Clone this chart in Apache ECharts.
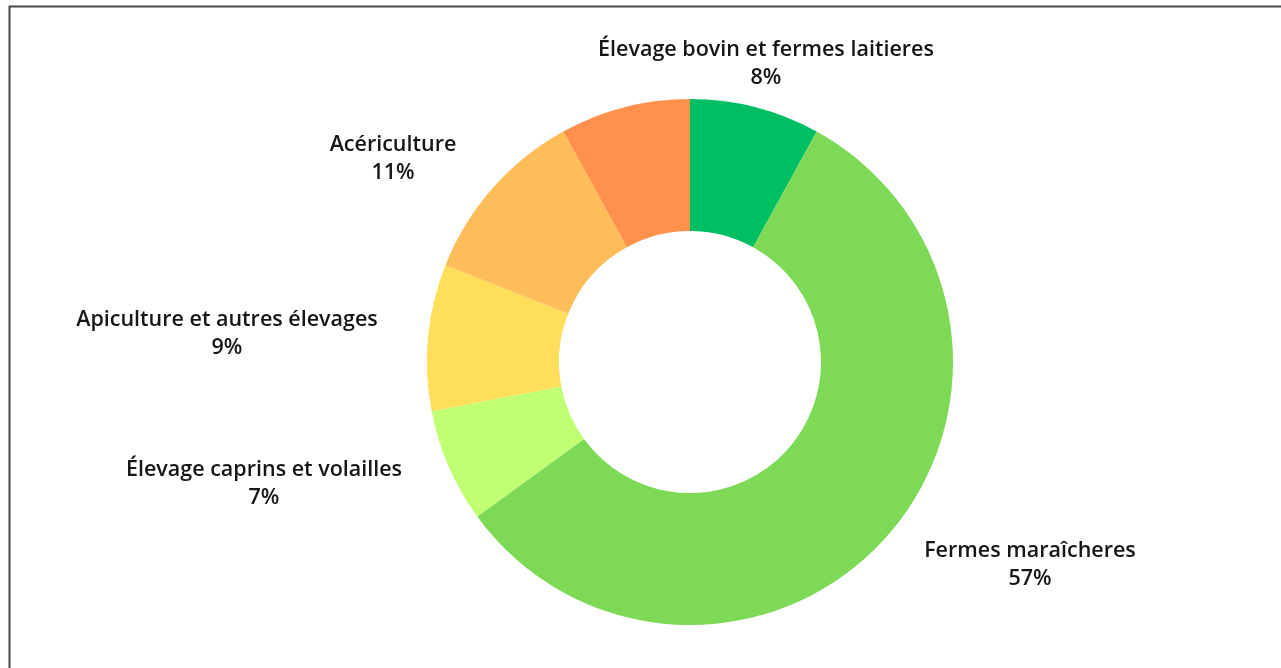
<!DOCTYPE html>
<html>
<head>
<meta charset="utf-8">
<script src="https://cdn.jsdelivr.net/npm/echarts@6/dist/echarts.min.js"></script>
<style>
  html, body { margin: 0; padding: 0; background: #ffffff; }
  #chart { width: 1281px; height: 668px; }
</style>
</head>
<body>
<div id="chart"></div>
<script>
// ---- data ----
const categories = [
  'Élevage bovin et fermes laitieres',
  'Fermes maraîcheres',
  'Élevage caprins et volailles',
  'Apiculture et autres élevages',
  'Acériculture',
  'Autres'
];
const values = [8, 57, 7, 9, 11, 8];
const showLabel = [true, true, true, true, true, false];

// ---- styles ----
const colors = ['#00BF63', '#7ED957', '#C1FF72', '#FFDE59', '#FFBD59', '#FF914D'];
// label centres (px) in the 1281x668 frame
const labelCenters = [[766, 64], [1030, 565], [264, 484], [227, 334], [393, 159], [0, 0]];

const chart = echarts.init(document.getElementById('chart'), null, { renderer: 'canvas' });

const data = categories.map((c, i) => ({
  name: c,
  value: values[i],
  itemStyle: { color: colors[i] },
  label: { show: showLabel[i] }
}));

const txt = { fontFamily: 'Open Sans', fontWeight: 600, fontSize: 21.5, color: '#161616', lineHeight: 28, align: 'center' };

chart.setOption({
  animation: false,
  backgroundColor: '#ffffff',
  graphic: [{
    type: 'rect',
    shape: { x: 9.5, y: 6.5, width: 1400, height: 800 },
    style: { fill: 'none', stroke: '#4a4a4a', lineWidth: 2 },
    silent: true
  }],
  series: [{
    type: 'pie',
    center: [690, 362],
    radius: [131, 263],
    startAngle: 90,
    clockwise: true,
    avoidLabelOverlap: false,
    data: data,
    label: {
      show: true,
      position: 'outside',
      formatter: p => '{n|' + p.name + '}\n{v|' + p.value + '%}',
      rich: { n: txt, v: txt }
    },
    labelLine: { show: false },
    labelLayout: function (params) {
      const c = labelCenters[params.dataIndex];
      return { x: c[0], y: c[1], align: 'center', verticalAlign: 'middle' };
    },
    emphasis: { disabled: true }
  }]
});
</script>
</body>
</html>
